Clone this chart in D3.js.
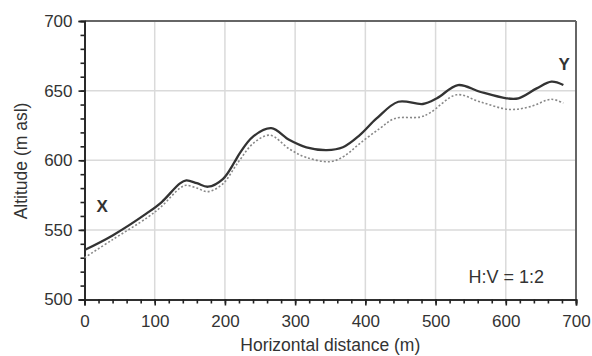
<!DOCTYPE html>
<html><head><meta charset="utf-8">
<script src="https://cdn.jsdelivr.net/npm/d3@7"></script>
<style>body{margin:0;background:#fff}svg{display:block}text{font-family:"Liberation Sans",Arial,sans-serif;fill:#333}</style>
</head><body><svg id="c" width="592" height="356"></svg>
<script>
const solidX = [0,40,89,110,136,145,160,176,197,214,221,240,266,292,316,345,368,392,416,447,482,502,532,563,601,618,644,665,682];
const solidY = [535.5,546,562,570,583.4,585.5,583.5,581,586.5,599,605,617,623,614.5,609.3,607.3,609.3,618,630,642,640.4,644.5,654,649.2,644.5,644.5,651.6,656.4,654];
const dotX = [0,40,90,110,136,145,160,176,197,214,221,240,264,292,316,350,370,392,421,442,478,492,530,563,605,635,665,682];
const dotY = [530,543,559,567,580,582,580,577.5,583,595,600,612,618,608,602,599,603,612,623,630,631,634,647,642,636.5,638.5,643.8,641];
const xTicks = [0,100,200,300,400,500,600,700];
const yTicks = [500,550,600,650,700];
const labels = [{t:"X",x:25,y:563},{t:"Y",x:683,y:665}];
const note = "H:V = 1:2";

const svg = d3.select("#c");
const L=84.5,R=576,T=21,B=299.5;
const x = d3.scaleLinear().domain([0,700]).range([L,R]);
const y = d3.scaleLinear().domain([500,700]).range([B,T]);

// grid
svg.append("g").selectAll("line").data(xTicks.slice(1,-1)).join("line")
  .attr("x1",d=>x(d)).attr("x2",d=>x(d)).attr("y1",T).attr("y2",B)
  .attr("stroke","#dadada").attr("stroke-width",1.5);
svg.append("g").selectAll("line").data(yTicks.slice(1,-1)).join("line")
  .attr("y1",d=>y(d)).attr("y2",d=>y(d)).attr("x1",L).attr("x2",R)
  .attr("stroke","#dadada").attr("stroke-width",1.5);

// frame top/right
svg.append("line").attr("x1",L).attr("x2",R).attr("y1",T).attr("y2",T).attr("stroke","#666").attr("stroke-width",2);
svg.append("line").attr("x1",R).attr("x2",R).attr("y1",T).attr("y2",B).attr("stroke","#666").attr("stroke-width",2);

// axes
const xMinor = d3.axisBottom(x).tickValues(d3.range(0,701,20)).tickSize(4).tickFormat("");
const xMajor = d3.axisBottom(x).tickValues(xTicks).tickSize(6).tickPadding(9);
const yMinor = d3.axisLeft(y).tickValues(d3.range(500,701,10)).tickSize(4).tickFormat("");
const yMajor = d3.axisLeft(y).tickValues(yTicks).tickSize(6).tickPadding(6);
function style(g){g.selectAll("path,line").attr("stroke","#222").attr("stroke-width",1.6);g.selectAll("text").attr("font-size",17).attr("fill","#333").attr("font-family","Liberation Sans, Arial, sans-serif");}
svg.append("g").attr("transform",`translate(0,${B})`).call(xMinor).call(style);
svg.append("g").attr("transform",`translate(0,${B})`).call(xMajor).call(style);
svg.append("g").attr("transform",`translate(${L},0)`).call(yMinor).call(style);
svg.append("g").attr("transform",`translate(${L},0)`).call(yMajor).call(style);

// lines
const line = d3.line().x(d=>x(d[0])).y(d=>y(d[1])).curve(d3.curveCatmullRom.alpha(0.5));
svg.append("path").datum(dotX.map((v,i)=>[v,dotY[i]])).attr("d",line)
  .attr("fill","none").attr("stroke","#888").attr("stroke-width",1.6).attr("stroke-dasharray","2,2");
svg.append("path").datum(solidX.map((v,i)=>[v,solidY[i]])).attr("d",line)
  .attr("fill","none").attr("stroke","#333").attr("stroke-width",2.3);

// labels
svg.selectAll(".pt").data(labels).join("text").attr("class","pt")
  .attr("x",d=>x(d.x)).attr("y",d=>y(d.y)).attr("text-anchor","middle")
  .attr("font-size",17).attr("font-weight","bold").attr("fill","#222").text(d=>d.t);
svg.append("text").attr("x",544).attr("y",283).attr("text-anchor","end").attr("font-size",18).text(note);

// axis titles
svg.append("text").attr("x",(L+R)/2).attr("y",351).attr("text-anchor","middle").attr("font-size",17.5).text("Horizontal distance (m)");
svg.append("text").attr("transform","translate(27,161) rotate(-90)").attr("text-anchor","middle").attr("font-size",17.5).text("Altitude (m asl)");
</script></body></html>
